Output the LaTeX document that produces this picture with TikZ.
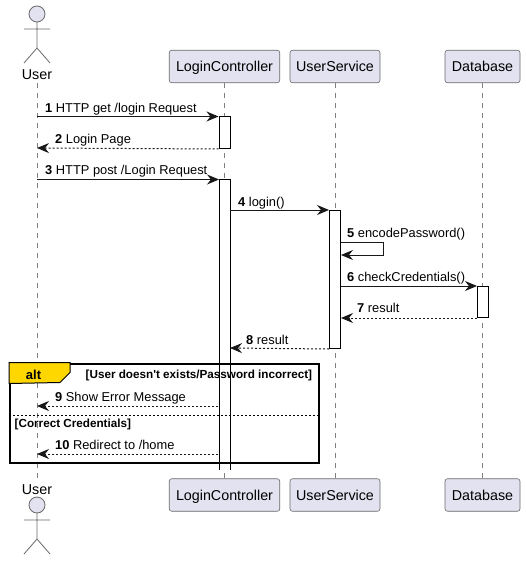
\documentclass[tikz,border=0pt]{standalone}
\usepackage{fontspec}
\setmainfont{Liberation Sans}[Ligatures=TeXOff]
\usetikzlibrary{arrows.meta,positioning,calc}
\definecolor{partfill}{HTML}{E2E2F0}
\definecolor{inkline}{HTML}{181818}
\definecolor{altgold}{HTML}{FFD700}
\tikzset{
	part/.style={draw=inkline!65,fill=partfill,line width=0.6pt,rounded corners=2.5pt,inner sep=0,minimum height=32.5pt,text height=12pt,text depth=1pt,font=\fontsize{14.3}{16}\selectfont},
	actortext/.style={anchor=base,inner sep=0,font=\fontsize{14.3}{16}\selectfont},
	actorline/.style={draw=inkline!65,line width=0.8pt},
	lifeline/.style={draw=inkline!55,line width=0.8pt,dash pattern=on 5pt off 5pt},
	actbar/.style={draw=black,fill=white,line width=1pt,inner sep=0,minimum width=11pt,anchor=north},
	msg/.style={draw=inkline,line width=1pt,-{Stealth[length=12pt,width=10pt,inset=4pt]}},
	reply/.style={msg,dash pattern=on 2pt off 2pt},
	msgtext/.style={anchor=base west,inner sep=0,font=\fontsize{12.85}{15}\selectfont},
	guard/.style={anchor=base west,inner sep=0,font=\fontsize{11.7}{13}\selectfont\bfseries},
}
\newcommand{\actorfig}[2]{
	\draw[actorline,fill=partfill] (#1,#2) circle (8);
	\draw[actorline] (#1,#2+8) -- (#1,#2+34) (#1-13,#2+15) -- (#1+13,#2+15)
		(#1-13,#2+49) -- (#1,#2+34) -- (#1+13,#2+49);
}
\begin{document}
\begin{tikzpicture}[x=1pt,y=-1pt]
	\useasboundingbox (0,0) rectangle (525,561);
	% participants, top and bottom
	\actorfig{37}{14}
	\node[actortext] (usertop) at (37,80) {User};
	\node[part,minimum width=110.5pt] (logintop) at (224.5,66.5) {LoginController};
	\node[part,minimum width=90pt] (servicetop) at (335,66.5) {UserService};
	\node[part,minimum width=75pt] (dbtop) at (482.5,66.5) {Database};
	\node[actortext] (userbot) at (37,494) {User};
	\actorfig{37}{505}
	\node[part,minimum width=110.5pt] (loginbot) at (224.5,495) {LoginController};
	\node[part,minimum width=90pt] (servicebot) at (335,495) {UserService};
	\node[part,minimum width=75pt] (dbbot) at (482.5,495) {Database};
	% lifelines
	\draw[lifeline,shorten <=3pt,shorten >=6pt] (usertop.south) -- (userbot.north);
	\draw[lifeline] (logintop.south) -- (loginbot.north);
	\draw[lifeline] (servicetop.south) -- (servicebot.north);
	\draw[lifeline] (dbtop.south) -- (dbbot.north);
	% activations
	\node[actbar,minimum height=31.5pt] (act1) at (224.5,116.5) {};
	\fill[white] (219,179.5) rectangle (230,470);
	\draw[black,line width=1pt] (219,470) -- (219,179.5) -- (230,179.5) -- (230,470);
	\coordinate (act2a) at (219,179.5);
	\coordinate (act2b) at (230,210);
	\coordinate (act2c) at (230,348);
	\coordinate (act2d) at (218,406);
	\coordinate (act2e) at (218,454);
	\node[actbar,minimum height=138pt] (act3) at (335,210) {};
	\node[actbar,minimum height=31pt] (act4) at (483,286) {};
	% messages
	\coordinate (user1) at (37,116.5);
	\coordinate (user2) at (37,148);
	\coordinate (user3) at (37,179.5);
	\coordinate (user9) at (37,406);
	\coordinate (user10) at (37,454);
	\draw[msg] (user1) -- (act1.north west);
	\node[msgtext] (lab1) at (45,112.5) {\textbf{1} HTTP get /login Request};
	\draw[reply] (act1.south west) -- (user2);
	\node[msgtext] (lab2) at (55,144) {\textbf{2} Login Page};
	\draw[msg] (user3) -- (act2a);
	\node[msgtext] (lab3) at (45,175) {\textbf{3} HTTP post /Login Request};
	\draw[msg] (act2b) -- (act3.north west);
	\node[msgtext] (lab4) at (238,206) {\textbf{4} login()};
	\draw[msg] ($(act3.north east)+(0,32)$) -- ++(42,0) -- ++(0,13) -- ++(-42,0);
	\node[msgtext] (lab5) at (347,237.5) {\textbf{5} encodePassword()};
	\draw[msg] (act3.east |- act4.north) -- (act4.north west);
	\node[msgtext] (lab6) at (347,281.5) {\textbf{6} checkCredentials()};
	\draw[reply] (act4.south west) -- (act3.east |- act4.south);
	\node[msgtext] (lab7) at (357,312.5) {\textbf{7} result};
	\draw[reply] (act3.south west) -- (act2c);
	\node[msgtext] (lab8) at (246,344) {\textbf{8} result};
	% alt frame
	\node[draw=black,line width=2pt,inner sep=0,minimum width=309pt,minimum height=99pt] (altbox) at (164.5,413) {};
	\draw[draw=black,line width=1pt,fill=altgold] (altbox.north west) -- ++(61,0) -- ++(0,10) -- ++(-10,10) -- (altbox.west |- 0,383.5) -- cycle;
	\node[inner sep=0,anchor=base,font=\fontsize{13}{15}\selectfont\bfseries] (alttag) at (33.5,379) {alt};
	\node[guard] (guard1) at (85.5,378) {[User doesn't exists/Password incorrect]};
	\draw[black,line width=0.8pt,dash pattern=on 2pt off 2pt] (altbox.west |- 0,415.5) -- (altbox.east |- 0,415.5);
	\node[guard] (guard2) at (14.5,427) {[Correct Credentials]};
	\draw[reply] (act2d) -- (user9);
	\node[msgtext] (lab9) at (55,401.5) {\textbf{9} Show Error Message};
	\draw[reply] (act2e) -- (user10);
	\node[msgtext] (lab10) at (55,449.5) {\textbf{10} Redirect to /home};
\end{tikzpicture}
\end{document}
